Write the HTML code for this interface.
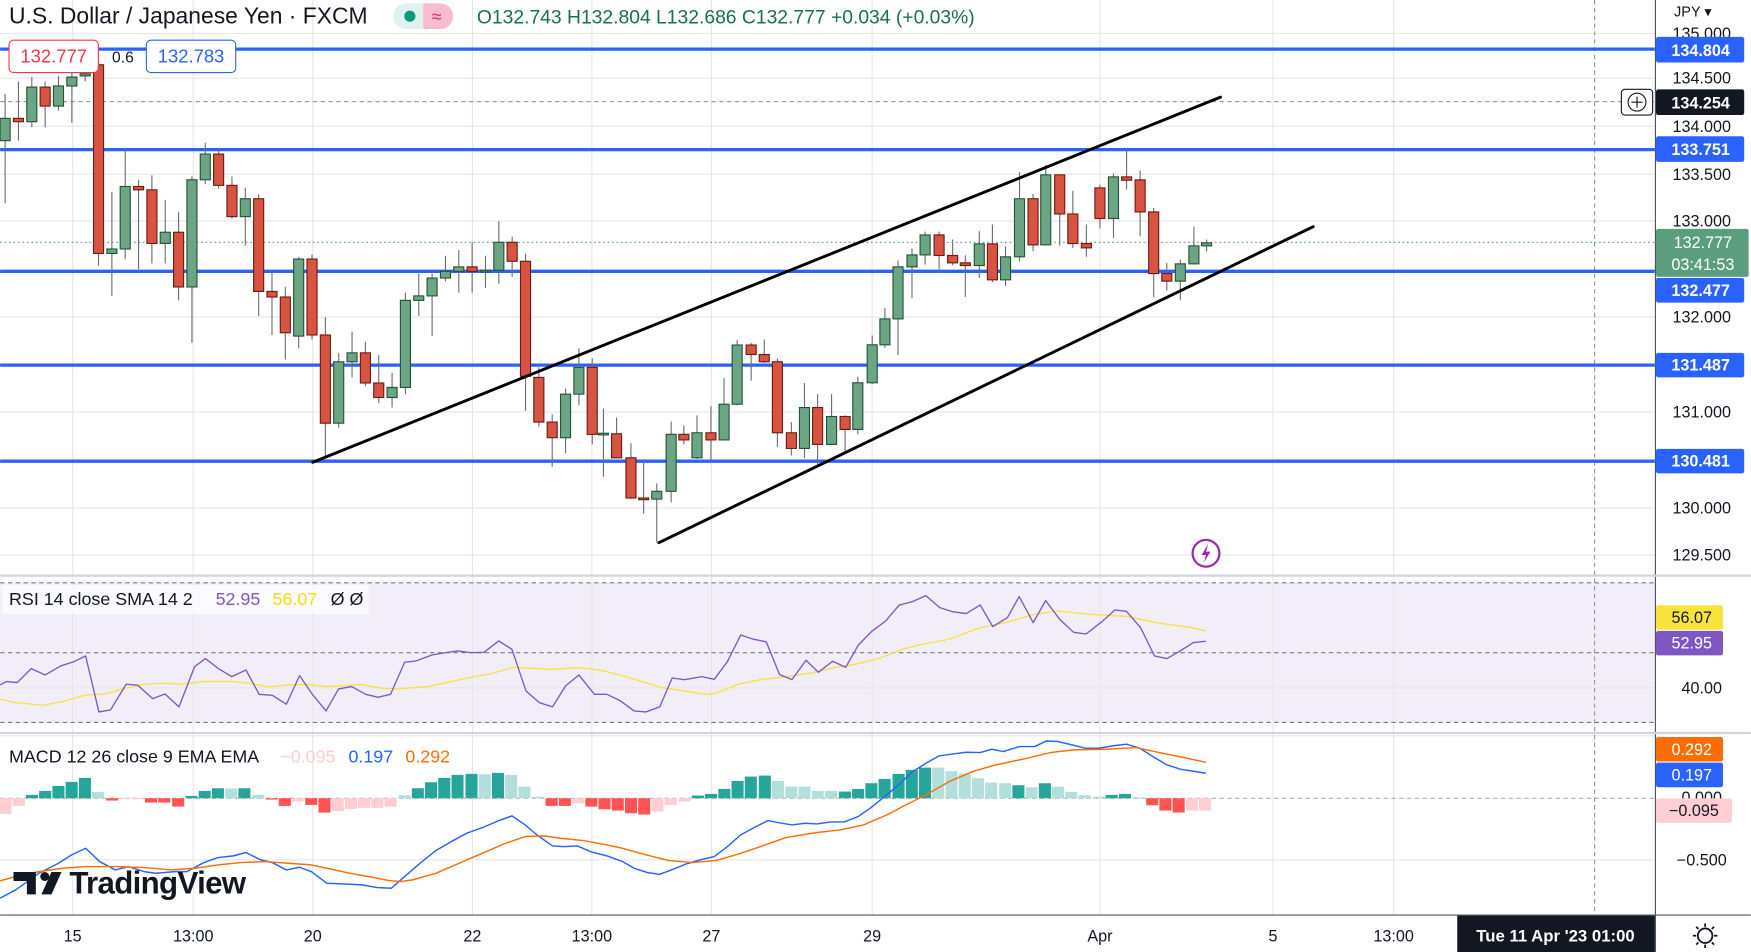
<!DOCTYPE html>
<html><head><meta charset="utf-8"><style>
html,body{margin:0;padding:0;background:#fff;overflow:hidden}
svg{display:block;font-family:"Liberation Sans",sans-serif}
</style></head><body>
<svg id="s" width="1751" height="952" viewBox="0 0 1568 852.6" xmlns="http://www.w3.org/2000/svg">
<rect width="1568" height="853" fill="#fff"/>
<rect x="0" y="522" width="1482" height="125" fill="#7e57c2" fill-opacity="0.1"/>
<g id="grid" stroke="#e6e6e6" stroke-width="1"></g>
<g stroke="#787b86" stroke-dasharray="4,3" stroke-width="1">
<line x1="0" y1="522" x2="1482" y2="522"/><line x1="0" y1="584.5" x2="1482" y2="584.5"/><line x1="0" y1="647" x2="1482" y2="647"/>
<line x1="0" y1="91" x2="1482" y2="91" stroke="#9598a1"/>
<line x1="0" y1="715" x2="1482" y2="715" stroke="#b0b3bb"/>
<line x1="1428" y1="0" x2="1428" y2="819" stroke="#9598a1"/>
</g>
<line x1="0" y1="217" x2="1482" y2="217" stroke="#5b9e7d" stroke-dasharray="1.5,2.5" stroke-width="1"/>
<line x1="0" y1="515.5" x2="1482" y2="515.5" stroke="#d1d4dc" stroke-width="2"/>
<line x1="0" y1="656.5" x2="1482" y2="656.5" stroke="#d1d4dc" stroke-width="2"/>
<g stroke="#2962ff" stroke-width="3">
<line x1="0" y1="44" x2="1482" y2="44"/><line x1="0" y1="134" x2="1482" y2="134"/><line x1="0" y1="243" x2="1482" y2="243"/><line x1="0" y1="327" x2="1482" y2="327"/><line x1="0" y1="413" x2="1482" y2="413"/>
</g>
<g id="candles"></g>
<g stroke="#000" stroke-width="2.6" stroke-linecap="round">
<line x1="280" y1="414" x2="1093" y2="87"/><line x1="590" y1="486" x2="1176" y2="203"/>
</g>
<circle cx="1080" cy="495.5" r="12" fill="#fff" stroke="#9c27b0" stroke-width="2"/>
<path d="M1082 487l-6 10h4l-2 7 6-10h-4z" fill="#9c27b0"/>
<g id="ind"></g>
<text x="8" y="21" font-size="20.5" fill="#131722">U.S. Dollar / Japanese Yen · FXCM</text>
<rect x="352" y="3" width="54" height="23" rx="11.5" fill="#e0f2ef"/>
<path d="M379 3h15a11.5 11.5 0 0 1 0 23h-15z" fill="#f8bbd0"/>
<circle cx="367" cy="14.5" r="5" fill="#089981"/>
<text x="391" y="20" font-size="16" fill="#e91e63" text-anchor="middle">≈</text>
<text x="427" y="21" font-size="17.3" fill="#1b6e55">O132.743 H132.804 L132.686 C132.777 +0.034 (+0.03%)</text>
<rect x="8" y="36" width="80" height="29" rx="4" fill="#fff" stroke="#f23645"/>
<text x="48" y="56" font-size="16.5" fill="#f23645" text-anchor="middle">132.777</text>
<text x="110" y="56" font-size="14" fill="#131722" text-anchor="middle">0.6</text>
<rect x="131" y="36" width="80" height="29" rx="4" fill="#fff" stroke="#2962ff"/>
<text x="171" y="56" font-size="16.5" fill="#2962ff" text-anchor="middle">132.783</text>
<rect x="2" y="524" width="328" height="26" fill="#fff" fill-opacity="0.7"/>
<text x="8" y="542" font-size="16" fill="#131722">RSI 14 close SMA 14 2</text>
<text x="193" y="542" font-size="16" fill="#7e57c2">52.95</text>
<text x="244" y="542" font-size="16" fill="#f5dd0f">56.07</text>
<text x="296" y="542" font-size="16" fill="#131722">Ø  Ø</text>
<text x="8" y="683" font-size="16" fill="#131722">MACD 12 26 close 9 EMA EMA</text>
<text x="251" y="683" font-size="16" fill="#ffcdd2">−0.095</text>
<text x="312" y="683" font-size="16" fill="#2962ff">0.197</text>
<text x="363" y="683" font-size="16" fill="#ff6d00">0.292</text>
<!-- TV logo -->
<g fill="#131722">
<path d="M12 781h20v20h-8v-12h-12z"/>
<circle cx="40" cy="785" r="4"/>
<path d="M46 781h9l-9 20h-9z"/>
</g>
<text x="62" y="800" font-size="28" fill="#131722" font-weight="bold" letter-spacing="-0.6">TradingView</text>
<rect x="1482" y="0" width="86" height="853" fill="#fff"/>
<line x1="1482.5" y1="0" x2="1482.5" y2="853" stroke="#50535e" stroke-width="1"/>
<g font-size="14.5" fill="#131722" text-anchor="middle" id="ax">
<text x="1516" y="15" font-size="13">JPY ▾</text>
<text x="1524" y="35">135.000</text><text x="1524" y="75">134.500</text><text x="1524" y="118">134.000</text><text x="1524" y="161">133.500</text><text x="1524" y="203">133.000</text><text x="1524" y="289">132.000</text><text x="1524" y="374">131.000</text><text x="1524" y="460">130.000</text><text x="1524" y="502">129.500</text>
<text x="1524" y="621">40.00</text>
<text x="1524" y="719">0.000</text>
<text x="1524" y="775">−0.500</text>
</g>
<line x1="1482" y1="515.5" x2="1568" y2="515.5" stroke="#d1d4dc" stroke-width="2"/>
<line x1="1482" y1="656.5" x2="1568" y2="656.5" stroke="#d1d4dc" stroke-width="2"/>
<g font-size="14.5" text-anchor="middle" font-weight="bold">
<rect x="1483" y="33" width="79" height="23" rx="2" fill="#2962ff"/><text x="1523" y="50" fill="#fff">134.804</text>
<rect x="1452" y="80" width="28" height="23" rx="3" fill="#fff" stroke="#131722"/><circle cx="1466" cy="91.5" r="8" fill="none" stroke="#131722"/><path d="M1461 91.5h10M1466 86.5v10" stroke="#131722"/>
<rect x="1483" y="80" width="79" height="23" rx="2" fill="#131722"/><text x="1523" y="97" fill="#fff">134.254</text>
<rect x="1483" y="122" width="79" height="23" rx="2" fill="#2962ff"/><text x="1523" y="139" fill="#fff">133.751</text>
<rect x="1483" y="205" width="83" height="43" rx="2" fill="#5b9e7d"/><text x="1525" y="222" fill="#fff" font-weight="normal">132.777</text><text x="1525" y="242" fill="#fff" font-weight="normal">03:41:53</text>
<rect x="1483" y="249" width="79" height="22" rx="2" fill="#2962ff"/><text x="1523" y="265" fill="#fff">132.477</text>
<rect x="1483" y="316" width="79" height="22" rx="2" fill="#2962ff"/><text x="1523" y="332" fill="#fff">131.487</text>
<rect x="1483" y="402" width="79" height="22" rx="2" fill="#2962ff"/><text x="1523" y="418" fill="#fff">130.481</text>
<rect x="1483" y="542" width="60" height="22" rx="2" fill="#f7e33b"/><text x="1515" y="558" fill="#131722" font-weight="normal">56.07</text>
<rect x="1483" y="565" width="60" height="22" rx="2" fill="#7e57c2"/><text x="1515" y="581" fill="#fff" font-weight="normal">52.95</text>
<rect x="1483" y="660" width="60" height="22" rx="2" fill="#ff6d00"/><text x="1515" y="676" fill="#fff" font-weight="normal">0.292</text>
<rect x="1483" y="683" width="60" height="22" rx="2" fill="#2962ff"/><text x="1515" y="699" fill="#fff" font-weight="normal">0.197</text>
<rect x="1483" y="715" width="68" height="22" rx="2" fill="#ffcdd2"/><text x="1517" y="731" fill="#131722" font-weight="normal">−0.095</text>
</g>
<rect x="0" y="819" width="1568" height="34" fill="#fff"/>
<line x1="0" y1="819.5" x2="1568" y2="819.5" stroke="#50535e"/>
<line x1="1482.5" y1="819" x2="1482.5" y2="853" stroke="#50535e"/>
<g font-size="14.5" fill="#131722" text-anchor="middle">
<text x="65" y="843">15</text><text x="173" y="843">13:00</text><text x="280" y="843">20</text><text x="423" y="843">22</text><text x="530" y="843">13:00</text><text x="637" y="843">27</text><text x="781" y="843">29</text><text x="985" y="843">Apr</text><text x="1140" y="843">5</text><text x="1248" y="843">13:00</text>
</g>
<rect x="1305" y="820" width="177" height="33" fill="#131722"/>
<text x="1393" y="843" font-size="15" fill="#fff" text-anchor="middle" font-weight="bold">Tue 11 Apr '23   01:00</text>
<circle cx="1527" cy="838" r="6.5" fill="none" stroke="#131722" stroke-width="1.6"/>
<g stroke="#131722" stroke-width="1.6"><line x1="1527" y1="827" x2="1527" y2="830"/><line x1="1527" y1="846" x2="1527" y2="849"/><line x1="1516" y1="838" x2="1519" y2="838"/><line x1="1535" y1="838" x2="1538" y2="838"/><line x1="1519" y1="830" x2="1521" y2="832"/><line x1="1533" y1="844" x2="1535" y2="846"/><line x1="1535" y1="830" x2="1533" y2="832"/><line x1="1521" y1="844" x2="1519" y2="846"/></g>
<script>
var NS="http://www.w3.org/2000/svg";
function el(t,a,p){var e=document.createElementNS(NS,t);for(var k in a)e.setAttribute(k,a[k]);p.appendChild(e);return e;}
var g=document.getElementById('grid');
[65,173,280,423,530,637,781,985,1140,1248].forEach(function(x){el('line',{x1:x,y1:0,x2:x,y2:819},g);});
[30,70,113,156,198,284,369,455,497,616,659,770].forEach(function(y){el('line',{x1:0,y1:y,x2:1482,y2:y},g);});
var C=[[106,126,84,182,1],[106,109,73,126,0],[78,109,69,114,1],[78,95,73,114,0],[77,95,68,99,1],[69,77,58,110,1],[66,68,60,73,1],[58,227,54,238,0],[223,227,172,265,1],[167,223,133,232,1],
[167,170,161,241,0],[170,218,157,236,0],[208,218,179,236,1],[208,257,190,269,0],[161,257,158,307,1],[138,161,128,165,1],[138,166,134,169,0],[166,194,158,196,0],[178,194,168,220,1],[178,261,174,283,0],
[261,266,243,300,0],[266,298,257,322,0],[232,301,230,312,1],[232,300,228,304,0],[300,379,284,408,0],[324,379,316,383,1],[316,324,297,338,1],[316,343,306,346,0],[343,356,318,361,0],[347,356,334,365,1],
[269,347,262,353,1],[265,269,245,283,1],[249,265,245,301,1],[243,249,229,252,1],[239,243,224,262,1],[239,243,217,262,0],[242,243,229,258,1],[217,242,198,254,1],[217,234,212,248,0],[234,337,227,368,0],
[338,378,329,382,0],[378,392,371,418,0],[353,392,348,406,1],[329,353,312,363,1],[329,389,321,398,0],
[388,389.5,366,427,1],[388.5,410,374,410,0],[410,446,397,447,0],[446,447.3,413,460,0],[440,447,433,486,1],[389,440,377.5,450,1],[389,394,381,398,0],[387.6,410,372,411,1],[387.6,394,363.7,412,0],[362,394,338.4,394,1],
[309,362,304.6,363,1],[309,317.5,307,341,0],[317.5,324,304,325,0],[324,387.6,321,400,0],[387.6,401.6,378,408,0],[365,401.6,343,410.6,1],[365,398,353,418,0],[373,398,353,398,1],[373,384.6,372,404,0],[342.8,384.6,337.5,389,1],
[308.8,342.8,300.5,344,1],[285.6,308.8,275.7,311.5,1],[239,285.6,233.3,318,1],[228.3,239,222.6,267,1],[210.4,228.3,207.4,237,1],[210.4,228.8,207.4,244,0],[228.8,235.4,214.5,237.5,0],[235.4,237.8,228.6,265.9,0],[218.4,237.8,207,248.9,1],[218.4,250.6,201,252.7,0],
[230,250.6,220.5,256.3,1],[178,230,154.3,234,1],[178,219.3,173.7,225,0],[156.6,219.3,147.7,219.3,1],[156.6,191.6,171,220,0],[191.6,218.1,171,222,0],[218.1,222,201,230,0],[168.3,195.7,165.3,204.7,0],[158.4,195.7,155.4,213,1],[158.4,161.4,133.4,169.8,0],
[161.1,189.8,152.8,211.6,0],[189.8,245,186.2,266.2,0],[245,251.8,235.4,260.2,0],[236.3,251.8,232.4,268.8,1],[220.2,236.3,202.9,236.9,1],[217.5,220.2,214.5,225,1]];
var X3=[15,46,80,110,141,175,205,236,269,300,331,364,395,426,459,490,521,554,586,616,650,680,711,744,775,808,840,870,903,934,965,998,1030,1060,1093,1124,1156,1188,1220,1251,1283,1315,1346,1378,1410,1440];
var cg=document.getElementById('candles');
C.forEach(function(c,i){var x=i<45?4.5+11.95*i:637+(X3[i-45]-270)/2.638;
 el('line',{x1:x,y1:c[2],x2:x,y2:c[3],stroke:'#6a6d78','stroke-width':1},cg);
 var h=Math.max(c[1]-c[0],1.5);
 el('rect',{x:x-4.5,y:c[0],width:9,height:h,fill:c[4]?'#6ba583':'#d75442',stroke:c[4]?'#225437':'#6f1a0f','stroke-width':1},cg);});
var ig=document.getElementById('ind');
function poly(pts,oy,col,w){var s=pts.map(function(p){return (p[0]*0.6967).toFixed(1)+','+(oy+p[1]*0.2985).toFixed(1)}).join(' ');el('polyline',{points:s,fill:'none',stroke:col,'stroke-width':w,'stroke-linejoin':'round'},ig);}
var H=[[7,252,3],[24,228,3],[41,195,0],[58,183,0],[75,168,0],[92,156,0],[109,144,0],[126,186,1],[144,212,2],[160,208,3],[177,207,3],[194,218,2],[211,218,2],[229,230,2],[246,198,0],[263,183,0],[280,175,0],[297,176,1],[314,175,0],[332,195,1],[349,209,2],[366,228,2],[383,215,3],[400,225,2],[417,248,2],[434,243,3],[451,237,3],[468,234,3],[485,234,3],[502,230,3],[520,196,1],[537,175,0],[554,157,0],[571,144,0],[588,135,0],[606,132,0],[623,133,1],[640,129,0],[657,135,1],[674,170,1],[692,200,1],[709,228,2],[726,228,2],[743,220,3],[760,230,2],[777,238,2],[794,242,2],[811,250,2],[828,254,2],[845,245,3],[862,225,3],[880,215,3],[897,197,0],[914,192,0],[931,177,0],[948,153,0],[965,140,0],[983,137,0],[1000,153,1],[1017,170,1],[1034,170,1],[1051,183,1],[1068,183,1],[1086,185,0],[1103,177,0],[1120,160,0],[1137,147,0],[1155,132,0],[1172,120,0],[1189,113,0],[1206,113,1],[1223,124,1],[1240,131,1],[1257,145,1],[1274,158,1],[1292,160,1],[1309,166,0],[1326,172,1],[1343,160,0],[1360,170,1],[1377,186,1],[1394,196,1],[1412,200,1],[1429,195,0],[1446,192,0],[1463,202,1],[1481,226,2],[1498,242,2],[1515,248,2],[1532,242,3],[1549,242,3]];
var HC=['#26a69a','#b2dfdb','#ff5252','#ffcdd2'];
H.forEach(function(b){var y0=653.7+205*0.2985,y1=653.7+b[1]*0.2985;var x=b[0]*0.6967;
 el('rect',{x:x-5.4,y:Math.min(y0,y1),width:10.8,height:Math.max(Math.abs(y1-y0),0.8),fill:HC[b[2]]},ig);});
poly([[0,505],[20,480],[50,430],[75,400],[92,375],[110,355],[128,395],[148,420],[165,410],[185,425],[200,430],[225,425],[240,425],[262,398],[280,383],[300,378],[316,368],[335,390],[350,398],[368,420],[385,412],[400,425],[420,460],[440,462],[465,465],[485,473],[503,475],[520,440],[540,400],[560,362],[580,335],[600,310],[620,293],[640,273],[658,258],[675,285],[690,315],[710,348],[725,350],[742,348],[760,366],[780,378],[800,395],[815,415],[832,428],[848,433],[865,418],[882,402],[900,390],[918,380],[935,350],[952,315],[970,292],[987,272],[1000,278],[1018,285],[1035,280],[1050,282],[1068,276],[1085,276],[1103,260],[1120,232],[1137,200],[1155,165],[1172,127],[1190,100],[1207,78],[1225,72],[1242,67],[1260,68],[1275,58],[1290,65],[1310,50],[1330,50],[1345,33],[1360,35],[1378,45],[1395,55],[1412,55],[1430,48],[1448,43],[1465,55],[1482,80],[1500,105],[1517,118],[1534,124],[1550,130]],653.7,'#2962ff',1.3);
poly([[0,453],[20,440],[50,425],[80,415],[110,410],[150,410],[185,413],[220,420],[250,415],[280,405],[310,398],[340,395],[370,400],[400,405],[420,415],[450,430],[480,443],[500,452],[515,455],[530,450],[560,430],[590,400],[620,370],[650,340],[675,320],[700,318],[720,325],[750,332],[780,345],[800,355],[830,375],[860,392],[890,398],[920,392],[950,372],[980,348],[1010,323],[1050,308],[1080,300],[1110,285],[1140,255],[1160,230],[1190,195],[1220,155],[1250,125],[1280,105],[1320,85],[1350,68],[1380,60],[1420,58],[1460,53],[1490,68],[1520,82],[1550,97]],653.7,'#ff6d00',1.3);
poly([[0,358],[20,368],[55,376],[80,365],[110,345],[135,342],[160,325],[185,313],[210,310],[235,313],[260,305],[300,305],[320,310],[345,321],[370,315],[395,314],[420,320],[465,314],[490,325],[510,327],[550,320],[580,305],[610,290],[630,282],[660,262],[710,268],[745,263],[770,270],[800,287],[825,305],[850,323],[880,333],[905,343],[920,340],[950,312],[980,298],[1010,290],[1040,280],[1075,262],[1100,253],[1130,235],[1160,208],[1185,193],[1220,178],[1260,143],[1290,130],[1330,103],[1360,93],[1400,103],[1450,110],[1490,130],[1530,142],[1550,153]],519.4,'#f7e33b',1.2);
poly([[0,315],[8,305],[22,308],[40,266],[58,285],[78,258],[95,245],[110,228],[127,396],[142,390],[162,313],[177,316],[196,356],[212,342],[230,381],[250,260],[264,236],[280,265],[298,290],[316,270],[333,343],[350,346],[368,373],[385,287],[402,345],[419,393],[435,327],[452,320],[470,343],[486,352],[502,343],[520,247],[535,243],[555,225],[573,218],[588,213],[605,218],[622,217],[641,183],[658,208],[676,333],[693,368],[710,381],[727,318],[744,285],[764,343],[780,343],[797,362],[815,393],[830,396],[848,381],[864,294],[880,299],[902,290],[918,298],[935,245],[952,165],[967,177],[985,186],[1002,284],[1018,299],[1036,241],[1052,277],[1070,244],[1087,262],[1103,196],[1120,155],[1138,124],[1156,75],[1173,65],[1190,47],[1208,83],[1224,95],[1242,101],[1260,75],[1276,140],[1295,113],[1310,50],[1328,128],[1344,62],[1362,118],[1380,157],[1396,162],[1416,126],[1433,90],[1448,94],[1466,143],[1484,228],[1500,236],[1517,213],[1534,188],[1550,184]],519.4,'#7e57c2',1.2);
</script>
</svg>
</body></html>
